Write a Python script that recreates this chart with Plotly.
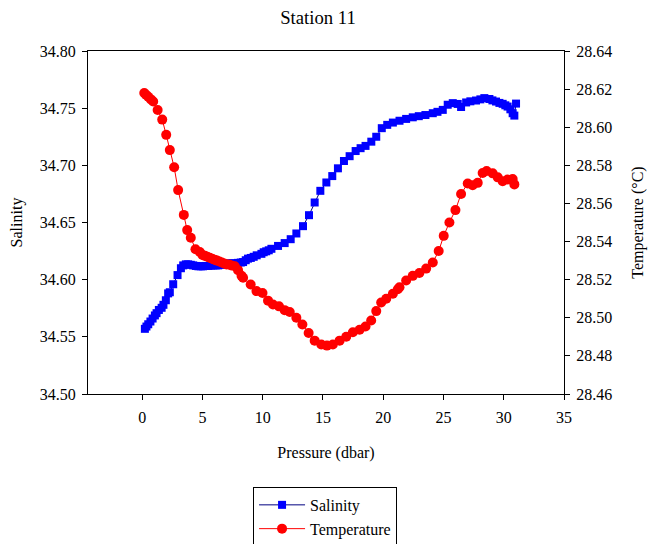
import plotly.graph_objects as go

# Salinity profile (pressure in dbar, salinity)
sal_pressure = [0.22, 0.35, 0.50, 0.68, 0.86, 1.05, 1.19, 1.38, 1.61, 1.76, 1.96, 2.15, 2.29, 2.57,
                2.93, 3.21, 3.40, 3.62, 3.81, 4.03, 4.23, 4.45, 4.66, 4.86, 5.05, 5.28, 5.48, 5.69,
                5.90, 6.10, 6.30, 6.52, 6.73, 6.99, 7.27, 7.51, 7.68, 7.93, 8.18, 8.37, 8.59, 8.78,
                9.01, 9.25, 9.50, 9.89, 10.08, 10.29, 10.50, 10.72, 11.27, 11.82, 12.32, 12.79,
                13.34, 13.84, 14.31, 14.78, 15.28, 15.77, 16.24, 16.74, 17.21, 17.71, 18.12, 18.53,
                19.01, 19.42, 19.88, 20.33, 20.80, 21.35, 21.90, 22.45, 22.95, 23.50, 24.11, 24.50,
                24.94, 25.35, 25.77, 26.18, 26.46, 26.88, 27.23, 27.70, 28.06, 28.39, 28.81, 29.06,
                29.36, 29.64, 29.91, 30.13, 30.32, 30.55, 30.74, 30.88, 31.02]
salinity = [34.557, 34.559, 34.561, 34.5634, 34.566, 34.5687, 34.5707, 34.5735, 34.5754, 34.578,
            34.582, 34.588, 34.589, 34.596, 34.604, 34.610, 34.6125, 34.6134, 34.6134, 34.613,
            34.6125, 34.612, 34.6117, 34.6117, 34.6117, 34.612, 34.612, 34.6123, 34.6125, 34.6125,
            34.6125, 34.613, 34.6132, 34.614, 34.6143, 34.6143, 34.614, 34.6147, 34.615, 34.6154,
            34.617, 34.6184, 34.619, 34.620, 34.6213, 34.6226, 34.624, 34.6248, 34.6257, 34.627,
            34.6295, 34.632, 34.6354, 34.6404, 34.6468, 34.6564, 34.6675, 34.6777, 34.685, 34.6906,
            34.6974, 34.7038, 34.708, 34.7125, 34.715, 34.717, 34.7207, 34.725, 34.7325, 34.7354,
            34.7374, 34.739, 34.7406, 34.742, 34.743, 34.744, 34.7456, 34.7468, 34.7485, 34.753,
            34.7544, 34.7537, 34.751, 34.755, 34.756, 34.7567, 34.7577, 34.7588, 34.758, 34.7568,
            34.7558, 34.7546, 34.7538, 34.7525, 34.7514, 34.749, 34.7456, 34.7435, 34.754]

# Temperature profile (pressure in dbar, temperature in °C)
temp_pressure = [0.17, 0.31, 0.50, 0.72, 0.91, 1.28, 1.66, 1.99, 2.29, 2.65, 2.98, 3.45, 3.73,
                 4.03, 4.42, 4.78, 5.00, 5.20, 5.40, 5.60, 5.80, 6.00, 6.20, 6.40, 6.60, 6.80,
                 7.00, 7.20, 7.40, 7.68, 7.95, 8.24, 8.37, 9.00, 9.48, 9.98, 10.44, 10.85, 11.35,
                 11.82, 12.24, 12.79, 13.29, 13.81, 14.31, 14.86, 15.33, 15.82, 16.38, 16.93,
                 17.48, 18.04, 18.53, 19.00, 19.42, 19.83, 20.25, 20.80, 21.21, 21.35, 21.90,
                 22.45, 23.00, 23.56, 24.11, 24.60, 25.02, 25.49, 25.99, 26.46, 27.01, 27.42,
                 27.84, 28.25, 28.58, 29.08, 29.50, 29.91, 30.32, 30.74, 30.88]
temperature = [28.618, 28.617, 28.616, 28.6146, 28.6135, 28.609, 28.604, 28.596, 28.588, 28.579,
               28.567, 28.554, 28.546, 28.542, 28.536, 28.5345, 28.533, 28.5325, 28.532, 28.5315,
               28.531, 28.5305, 28.530, 28.5295, 28.529, 28.5285, 28.528, 28.528, 28.5275, 28.527,
               28.525, 28.522, 28.521, 28.5175, 28.514, 28.513, 28.509, 28.507, 28.506, 28.504,
               28.503, 28.500, 28.4965, 28.492, 28.488, 28.486, 28.4854, 28.486, 28.488, 28.490,
               28.4924, 28.4937, 28.4954, 28.4986, 28.5035, 28.508, 28.510, 28.5126, 28.515, 28.516,
               28.5196, 28.522, 28.5235, 28.5258, 28.529, 28.535, 28.543, 28.550, 28.5565, 28.565,
               28.5705, 28.5696, 28.5708, 28.576, 28.577, 28.5758, 28.5737, 28.5717, 28.5726,
               28.5728, 28.570]

x_ticks = [0, 5, 10, 15, 20, 25, 30, 35]
sal_ticks = [34.50, 34.55, 34.60, 34.65, 34.70, 34.75, 34.80]
temp_ticks = [28.46, 28.48, 28.50, 28.52, 28.54, 28.56, 28.58, 28.60, 28.62, 28.64]

FONT = "Liberation Serif, Times New Roman, serif"

fig = go.Figure()
fig.add_trace(go.Scatter(
    x=sal_pressure, y=salinity, name="Salinity", mode="lines+markers",
    line=dict(color="#000080", width=1),
    marker=dict(symbol="square", size=8, color="#0000FF", line=dict(width=0)),
    yaxis="y"))
fig.add_trace(go.Scatter(
    x=temp_pressure, y=temperature, name="Temperature", mode="lines+markers",
    line=dict(color="#FF0000", width=1),
    marker=dict(symbol="circle", size=10, color="#FF0000", line=dict(width=0)),
    yaxis="y2"))

axis_common = dict(showline=True, linecolor="black", linewidth=1, ticks="outside",
                   ticklen=5, tickcolor="black", showgrid=False, zeroline=False,
                   tickfont=dict(family=FONT, size=16, color="black"))

fig.update_layout(
    width=656, height=536,
    margin=dict(l=80, r=100, t=43, b=150, autoexpand=False),
    paper_bgcolor="white", plot_bgcolor="white",
    font=dict(family=FONT, color="black", size=16),
    title=dict(text="Station 11", x=0.4726, xanchor="center", yref="container",
               y=0.982, yanchor="middle",
               font=dict(family=FONT, size=18.7, color="black")),
    xaxis=dict(range=[-4.5, 35], tickvals=x_ticks, mirror=True, ticklabelstandoff=4,
               title=dict(text="Pressure (dbar)", font=dict(family=FONT, size=16), standoff=21),
               **axis_common),
    yaxis=dict(range=[34.50, 34.80], tickvals=sal_ticks, tickformat=".2f", ticklabelstandoff=3,
               title=dict(text="Salinity", font=dict(family=FONT, size=16), standoff=13),
               **axis_common),
    yaxis2=dict(range=[28.46, 28.64], tickvals=temp_ticks, tickformat=".2f",
                overlaying="y", side="right", ticklabelstandoff=3,
                title=dict(text="Temperature (°C)", font=dict(family=FONT, size=16), standoff=20),
                **axis_common),
    showlegend=True,
    legend=dict(x=0.498, xanchor="center", y=-0.271, yanchor="top",
                bordercolor="black", borderwidth=1, bgcolor="white",
                font=dict(family=FONT, size=16, color="black"),
                tracegroupgap=0, itemwidth=46),
)

fig.write_html("out.html")
